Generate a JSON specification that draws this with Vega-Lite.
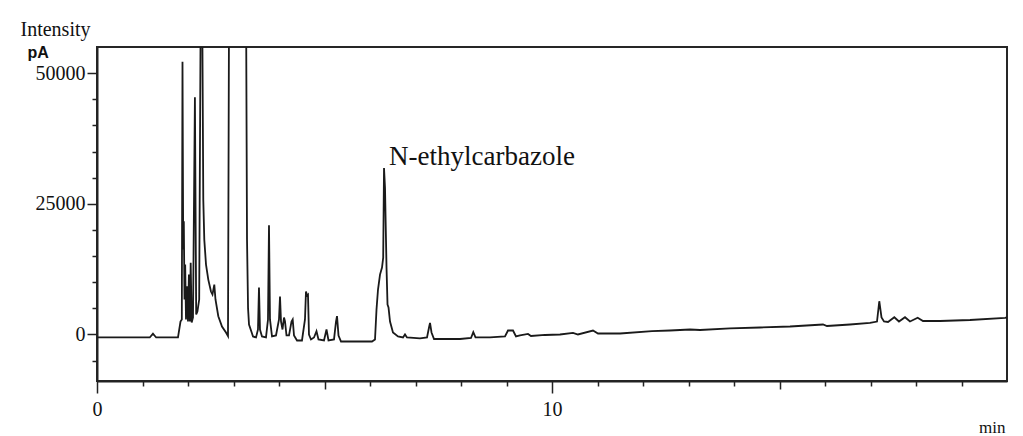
{
  "$schema": "https://vega.github.io/schema/vega-lite/v6.json",
  "width": 910,
  "height": 334,
  "autosize": {"type": "none"},
  "padding": {"left": 97, "top": 47, "right": 16, "bottom": 55},
  "background": "white",
  "view": {"stroke": "#262626", "strokeWidth": 2},
  "config": {
    "axis": {
      "grid": false,
      "domainColor": "#222222",
      "domainWidth": 2,
      "tickColor": "#222222",
      "tickWidth": 1.5,
      "labelColor": "#111111",
      "labelFont": "Liberation Serif",
      "labelFontSize": 20,
      "titleColor": "#111111"
    }
  },
  "datasets": {
    "trace": [
      {"time_min": 0, "signal_pA": -570},
      {"time_min": 1.16, "signal_pA": -570},
      {"time_min": 1.23, "signal_pA": 150},
      {"time_min": 1.3, "signal_pA": -570},
      {"time_min": 1.78, "signal_pA": -570},
      {"time_min": 1.835, "signal_pA": 2480},
      {"time_min": 1.864, "signal_pA": 2870},
      {"time_min": 1.879, "signal_pA": 52200},
      {"time_min": 1.895, "signal_pA": 16240},
      {"time_min": 1.908, "signal_pA": 21650},
      {"time_min": 1.923, "signal_pA": 6690},
      {"time_min": 1.938, "signal_pA": 13370},
      {"time_min": 1.956, "signal_pA": 2870},
      {"time_min": 1.978, "signal_pA": 9230},
      {"time_min": 2.0, "signal_pA": 2480},
      {"time_min": 2.02, "signal_pA": 11460},
      {"time_min": 2.042, "signal_pA": 2480},
      {"time_min": 2.059, "signal_pA": 13700},
      {"time_min": 2.081, "signal_pA": 2290},
      {"time_min": 2.11, "signal_pA": 3250},
      {"time_min": 2.152, "signal_pA": 45400},
      {"time_min": 2.18, "signal_pA": 3820},
      {"time_min": 2.207, "signal_pA": 4390},
      {"time_min": 2.246, "signal_pA": 6690},
      {"time_min": 2.295, "signal_pA": 90000},
      {"time_min": 2.336, "signal_pA": 25790},
      {"time_min": 2.358, "signal_pA": 18150},
      {"time_min": 2.396, "signal_pA": 13370},
      {"time_min": 2.446, "signal_pA": 10500},
      {"time_min": 2.505, "signal_pA": 8210},
      {"time_min": 2.538, "signal_pA": 7640},
      {"time_min": 2.578, "signal_pA": 9550},
      {"time_min": 2.604, "signal_pA": 6690},
      {"time_min": 2.666, "signal_pA": 3500},
      {"time_min": 2.747, "signal_pA": 1530},
      {"time_min": 2.835, "signal_pA": 380},
      {"time_min": 2.879, "signal_pA": -300},
      {"time_min": 2.912, "signal_pA": 90000},
      {"time_min": 3.264, "signal_pA": 90000},
      {"time_min": 3.297, "signal_pA": 18150},
      {"time_min": 3.32, "signal_pA": 5000},
      {"time_min": 3.341, "signal_pA": 1910},
      {"time_min": 3.4, "signal_pA": 380},
      {"time_min": 3.429, "signal_pA": -380},
      {"time_min": 3.495, "signal_pA": -570},
      {"time_min": 3.538, "signal_pA": 955},
      {"time_min": 3.56, "signal_pA": 8980},
      {"time_min": 3.582, "signal_pA": 955},
      {"time_min": 3.626, "signal_pA": -380},
      {"time_min": 3.714, "signal_pA": -570},
      {"time_min": 3.758, "signal_pA": 2870},
      {"time_min": 3.78, "signal_pA": 20880},
      {"time_min": 3.802, "signal_pA": 2870},
      {"time_min": 3.846, "signal_pA": -380},
      {"time_min": 3.934, "signal_pA": -190},
      {"time_min": 4.0, "signal_pA": 2870},
      {"time_min": 4.022, "signal_pA": 7260},
      {"time_min": 4.044, "signal_pA": 2480},
      {"time_min": 4.077, "signal_pA": 955},
      {"time_min": 4.11, "signal_pA": 3250},
      {"time_min": 4.132, "signal_pA": 2480},
      {"time_min": 4.165, "signal_pA": -190},
      {"time_min": 4.22, "signal_pA": -190},
      {"time_min": 4.275, "signal_pA": 2480},
      {"time_min": 4.301, "signal_pA": 2870},
      {"time_min": 4.33, "signal_pA": -190},
      {"time_min": 4.396, "signal_pA": -1150},
      {"time_min": 4.505, "signal_pA": -1150},
      {"time_min": 4.571, "signal_pA": 2870},
      {"time_min": 4.593, "signal_pA": 8210},
      {"time_min": 4.615, "signal_pA": 7450},
      {"time_min": 4.637, "signal_pA": 7640},
      {"time_min": 4.659, "signal_pA": 0},
      {"time_min": 4.703, "signal_pA": -955},
      {"time_min": 4.769, "signal_pA": -570},
      {"time_min": 4.824, "signal_pA": 630},
      {"time_min": 4.868, "signal_pA": -955},
      {"time_min": 4.989, "signal_pA": -1150},
      {"time_min": 5.044, "signal_pA": 955},
      {"time_min": 5.088, "signal_pA": -1150},
      {"time_min": 5.209, "signal_pA": -955},
      {"time_min": 5.253, "signal_pA": 2480},
      {"time_min": 5.275, "signal_pA": 3500},
      {"time_min": 5.308, "signal_pA": -190},
      {"time_min": 5.363, "signal_pA": -1340},
      {"time_min": 6.044, "signal_pA": -1340},
      {"time_min": 6.11, "signal_pA": -955},
      {"time_min": 6.143, "signal_pA": 4780},
      {"time_min": 6.176, "signal_pA": 8600},
      {"time_min": 6.22, "signal_pA": 11460},
      {"time_min": 6.264, "signal_pA": 12800},
      {"time_min": 6.29, "signal_pA": 14710},
      {"time_min": 6.308, "signal_pA": 31840},
      {"time_min": 6.33, "signal_pA": 28000},
      {"time_min": 6.363, "signal_pA": 12800},
      {"time_min": 6.385, "signal_pA": 5730},
      {"time_min": 6.407, "signal_pA": 5160},
      {"time_min": 6.44, "signal_pA": 2480},
      {"time_min": 6.505, "signal_pA": 380},
      {"time_min": 6.615, "signal_pA": -380},
      {"time_min": 6.725, "signal_pA": -570},
      {"time_min": 6.769, "signal_pA": 0},
      {"time_min": 6.813, "signal_pA": -570},
      {"time_min": 7.099, "signal_pA": -760},
      {"time_min": 7.253, "signal_pA": -570},
      {"time_min": 7.297, "signal_pA": 1340},
      {"time_min": 7.319, "signal_pA": 2230},
      {"time_min": 7.352, "signal_pA": 380},
      {"time_min": 7.407, "signal_pA": -860},
      {"time_min": 7.978, "signal_pA": -860},
      {"time_min": 8.22, "signal_pA": -670},
      {"time_min": 8.27, "signal_pA": 440},
      {"time_min": 8.319, "signal_pA": -570},
      {"time_min": 8.637, "signal_pA": -570},
      {"time_min": 8.967, "signal_pA": -380},
      {"time_min": 9.033, "signal_pA": 760},
      {"time_min": 9.143, "signal_pA": 760},
      {"time_min": 9.209, "signal_pA": -380},
      {"time_min": 9.297, "signal_pA": -190},
      {"time_min": 9.473, "signal_pA": 95},
      {"time_min": 9.538, "signal_pA": -290},
      {"time_min": 9.846, "signal_pA": -95},
      {"time_min": 10.176, "signal_pA": 0},
      {"time_min": 10.462, "signal_pA": 320},
      {"time_min": 10.571, "signal_pA": 0},
      {"time_min": 10.901, "signal_pA": 760},
      {"time_min": 11.011, "signal_pA": 190},
      {"time_min": 11.495, "signal_pA": 190},
      {"time_min": 12.198, "signal_pA": 630},
      {"time_min": 12.593, "signal_pA": 760},
      {"time_min": 13.033, "signal_pA": 955},
      {"time_min": 13.253, "signal_pA": 860},
      {"time_min": 13.912, "signal_pA": 1150},
      {"time_min": 14.571, "signal_pA": 1340},
      {"time_min": 15.231, "signal_pA": 1530},
      {"time_min": 15.956, "signal_pA": 1910},
      {"time_min": 16.044, "signal_pA": 1620},
      {"time_min": 16.549, "signal_pA": 1910},
      {"time_min": 16.989, "signal_pA": 2200},
      {"time_min": 17.143, "signal_pA": 2480},
      {"time_min": 17.193, "signal_pA": 6360},
      {"time_min": 17.242, "signal_pA": 3250},
      {"time_min": 17.297, "signal_pA": 2480},
      {"time_min": 17.385, "signal_pA": 2390},
      {"time_min": 17.523, "signal_pA": 3300},
      {"time_min": 17.626, "signal_pA": 2480},
      {"time_min": 17.758, "signal_pA": 3300},
      {"time_min": 17.868, "signal_pA": 2480},
      {"time_min": 18.037, "signal_pA": 3190},
      {"time_min": 18.154, "signal_pA": 2580},
      {"time_min": 18.527, "signal_pA": 2580},
      {"time_min": 19.187, "signal_pA": 2770},
      {"time_min": 19.956, "signal_pA": 3190},
      {"time_min": 20, "signal_pA": 3250}
    ],
    "peaks": [
      {"compound": "N-ethylcarbazole", "time_min": 6.308, "signal_pA": 31840}
    ]
  },
  "layer": [
    {
      "data": {"name": "trace"},
      "mark": {"type": "line", "clip": true, "color": "#1a1a1a", "strokeWidth": 1.8},
      "encoding": {
        "x": {
          "field": "time_min",
          "type": "quantitative",
          "scale": {"domain": [0, 20], "nice": false, "zero": false},
          "axis": {
            "values": [0, 1, 2, 3, 4, 5, 6, 7, 8, 9, 10, 11, 12, 13, 14, 15, 16, 17, 18, 19],
            "labelExpr": "datum.value === 0 || datum.value === 10 ? datum.label : ''",
            "tickSize": {"condition": [{"test": "datum.value % 10 === 0", "value": 12}, {"test": "datum.value % 5 === 0", "value": 8}], "value": 5},
            "labelPadding": 6,
            "labelFlush": false,
            "labelOverlap": false,
            "title": "min",
            "titleFont": "Liberation Serif",
            "titleFontSize": 17,
            "titleFontWeight": "normal",
            "titleAlign": "right",
            "titleBaseline": "alphabetic",
            "titleX": 908,
            "titleY": 51
          }
        },
        "y": {
          "field": "signal_pA",
          "type": "quantitative",
          "scale": {"domain": [-8900, 55000], "nice": false, "zero": false},
          "axis": {
            "orient": "left",
            "values": [-5000, 0, 5000, 10000, 15000, 20000, 25000, 30000, 35000, 40000, 45000, 50000],
            "format": "d",
            "labelExpr": "datum.value === 0 || datum.value === 25000 || datum.value === 50000 ? datum.label : ''",
            "tickSize": {"condition": {"test": "datum.value % 25000 === 0", "value": 10}, "value": 5},
            "labelPadding": 2,
            "labelOverlap": false,
            "labelFlush": false,
            "title": "Intensity",
            "titleFont": "Liberation Serif",
            "titleFontSize": 20,
            "titleFontWeight": "normal",
            "titleAngle": 0,
            "titleAlign": "left",
            "titleBaseline": "alphabetic",
            "titleX": -77,
            "titleY": -12
          }
        }
      }
    },
    {
      "data": {"name": "peaks"},
      "mark": {"type": "text", "align": "left", "baseline": "alphabetic", "dx": 5, "dy": -3, "font": "Liberation Serif", "fontSize": 27, "color": "#111111"},
      "encoding": {
        "x": {"field": "time_min", "type": "quantitative", "axis": null},
        "y": {
          "field": "signal_pA",
          "type": "quantitative",
          "axis": {
            "orient": "left",
            "domain": false,
            "ticks": false,
            "labels": false,
            "title": "pA",
            "titleFont": "Liberation Sans",
            "titleFontSize": 16,
            "titleFontWeight": "bold",
            "titleAngle": 0,
            "titleAlign": "left",
            "titleBaseline": "alphabetic",
            "titleX": -70,
            "titleY": 10
          }
        },
        "text": {"field": "compound"}
      }
    }
  ],
  "resolve": {"axis": {"x": "independent", "y": "independent"}}
}
